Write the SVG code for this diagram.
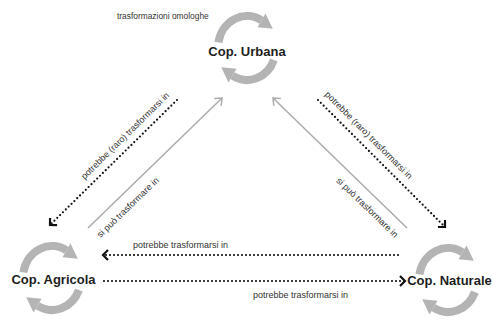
<svg xmlns="http://www.w3.org/2000/svg" xmlns:xlink="http://www.w3.org/1999/xlink" width="492" height="320" viewBox="0 0 492 320">
<style>
.node{font-family:"Liberation Sans",Arial,sans-serif;font-weight:bold;font-size:13px;fill:#1e1e1e;text-anchor:middle}
.lbl{font-family:"Liberation Sans",Arial,sans-serif;font-size:9px;fill:#333}
.dot{fill:none;stroke:#111;stroke-width:2.2;stroke-linecap:round;stroke-dasharray:0 4}
.solid{fill:none;stroke:#ababab;stroke-width:1.5}
.arc{fill:none;stroke:#b4b4b4;stroke-width:8}
.head{fill:#b4b4b4}
</style>
<defs>
<marker id="chev" markerUnits="userSpaceOnUse" markerWidth="14" markerHeight="14" refX="11" refY="7" orient="auto">
<path d="M6,2 L11,7 L6,12" fill="none" stroke="#111" stroke-width="2.2"/>
</marker>
<marker id="garrow" markerUnits="userSpaceOnUse" markerWidth="14" markerHeight="14" refX="11" refY="7" orient="auto">
<path d="M5,2 L11,7 L5,12" fill="none" stroke="#ababab" stroke-width="1.5"/>
</marker>
<g id="cycle">
<path class="arc" d="M -28.6,-5.6 A 29 32 0 0 1 14.5,-27.7"/>
<polygon class="head" points="10.5,-20.8 18.5,-34.6 25.8,-19.2"/>
<path class="arc" d="M 26.9,12.0 A 29 32 0 0 1 -14.5,27.7"/>
<polygon class="head" points="-10.5,20.8 -18.5,34.6 -25.8,19.2"/>
</g>
</defs>
<rect width="492" height="320" fill="#fff"/>
<g id="connectors">
<g id="urbana-agricola-dotted">
<path class="dot" d="M177,100 L50,225" marker-end="url(#chev)"/>
<text class="lbl" transform="translate(50,225) rotate(-44.5)" x="176" y="-8" text-anchor="end">potrebbe (raro) trasformarsi in</text>
</g>
<g id="agricola-urbana-solid">
<path class="solid" d="M88,228 L222,98" marker-end="url(#garrow)"/>
<text class="lbl" transform="translate(88,228) rotate(-44.1)" x="2" y="16">si può trasformare in</text>
</g>
<g id="naturale-urbana-solid">
<path class="solid" d="M407,228 L273,98" marker-end="url(#garrow)"/>
<text class="lbl" transform="translate(273,98) rotate(44.1)" x="185" y="16" text-anchor="end">si può trasformare in</text>
</g>
<g id="urbana-naturale-dotted">
<path class="dot" d="M318,100 L445,227" marker-end="url(#chev)"/>
<text class="lbl" transform="translate(318,100) rotate(45)" x="1" y="-8">potrebbe (raro) trasformarsi in</text>
</g>
<g id="naturale-agricola-dotted">
<path class="dot" d="M398,255 L103,255" marker-end="url(#chev)"/>
<text class="lbl" x="133" y="248">potrebbe trasformarsi in</text>
</g>
<g id="agricola-naturale-dotted">
<path class="dot" d="M104,281 L405,281" marker-end="url(#chev)"/>
<text class="lbl" x="253" y="298">potrebbe trasformarsi in</text>
</g>
</g>
<g id="urbana">
<use xlink:href="#cycle" href="#cycle" transform="translate(247,48)"/>
<text class="node" x="247" y="56">Cop. Urbana</text>
<text class="lbl" x="117" y="18.5" style="font-size:8.4px">trasformazioni omologhe</text>
</g>
<g id="agricola">
<use xlink:href="#cycle" href="#cycle" transform="translate(52,278)"/>
<text class="node" x="53.5" y="284">Cop. Agricola</text>
</g>
<g id="naturale">
<use xlink:href="#cycle" href="#cycle" transform="translate(448,280)"/>
<text class="node" x="449.5" y="285">Cop. Naturale</text>
</g>
</svg>
